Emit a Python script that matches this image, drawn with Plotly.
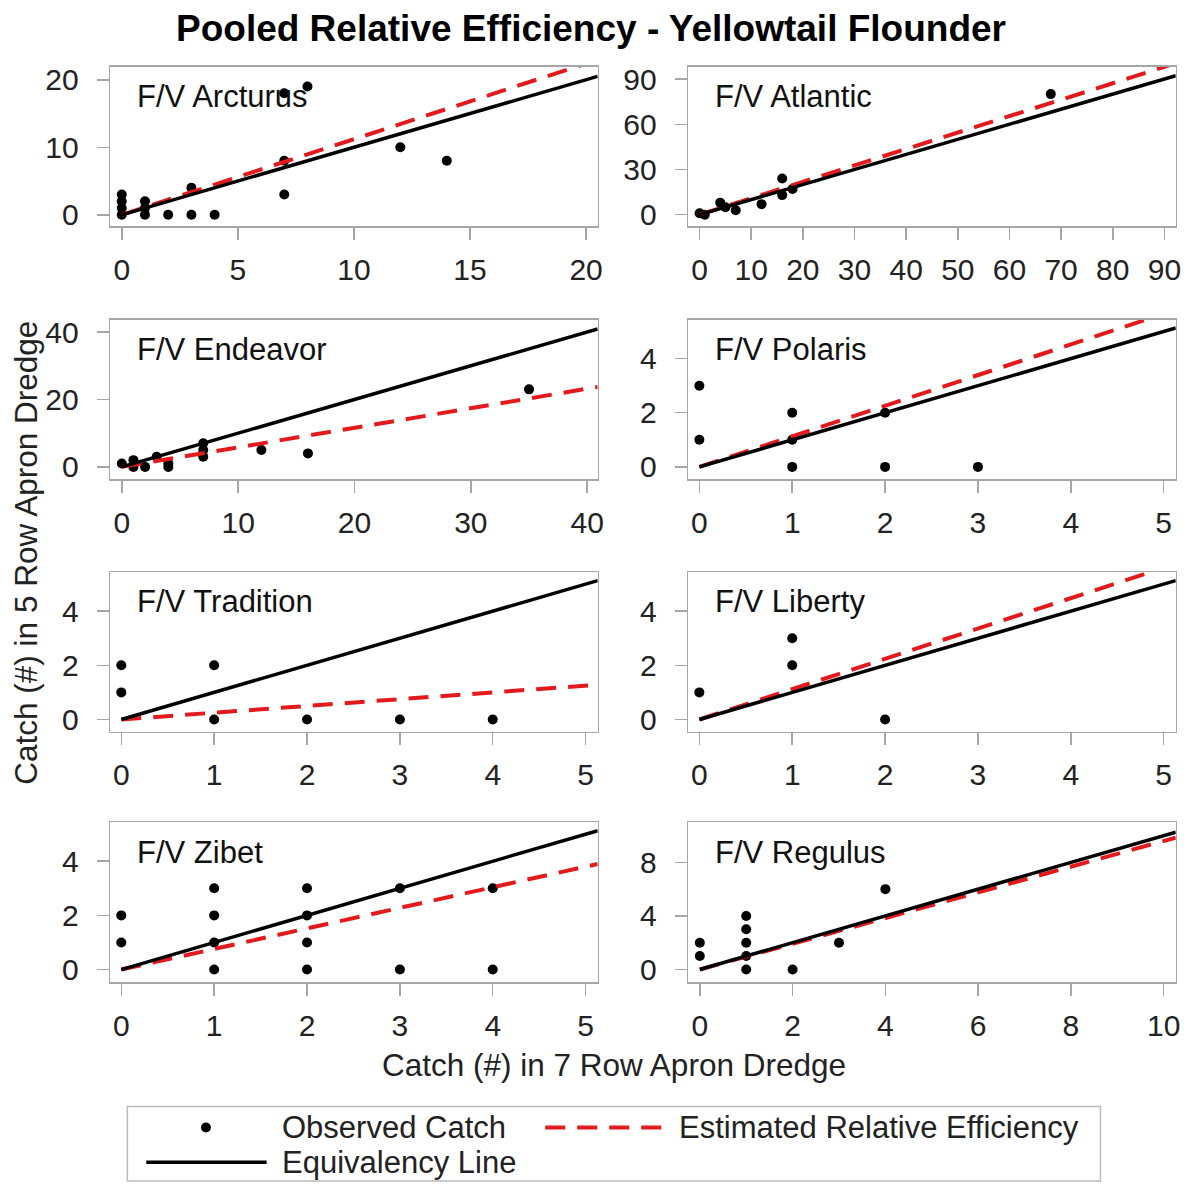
import plotly.graph_objects as go

W, H = 1194, 1187

# ---------------- data ----------------
vessels = ["F/V Arcturus", "F/V Atlantic", "F/V Endeavor", "F/V Polaris",
           "F/V Tradition", "F/V Liberty", "F/V Zibet", "F/V Regulus"]

arcturus_x = [0, 0, 0, 0, 1, 1, 1, 2, 3, 3, 4, 7, 7, 7, 8, 12, 14]
arcturus_y = [0, 1, 2, 3, 0, 1, 2, 0, 0, 4, 0, 3, 8, 18, 19, 10, 8]

atlantic_x = [0, 1, 4, 5, 7, 12, 16, 16, 18, 68]
atlantic_y = [1, 0, 8, 5, 3, 7, 13, 24, 17, 80]

endeavor_x = [0, 1, 1, 2, 3, 4, 4, 7, 7, 7, 12, 16, 35]
endeavor_y = [1, 0, 2, 0, 3, 0, 1, 3, 5, 7, 5, 4, 23]

polaris_x = [0, 0, 1, 1, 1, 2, 2, 3]
polaris_y = [1, 3, 0, 1, 2, 0, 2, 0]

tradition_x = [0, 0, 1, 1, 2, 3, 4]
tradition_y = [1, 2, 0, 2, 0, 0, 0]

liberty_x = [0, 1, 1, 2]
liberty_y = [1, 2, 3, 0]

zibet_x = [0, 0, 1, 1, 1, 1, 2, 2, 2, 2, 3, 3, 4, 4]
zibet_y = [1, 2, 0, 1, 2, 3, 0, 1, 2, 3, 0, 3, 0, 3]

regulus_x = [0, 0, 1, 1, 1, 1, 1, 2, 3, 4]
regulus_y = [1, 2, 0, 1, 2, 3, 4, 0, 2, 6]

# estimated relative efficiency (slope of red dashed line)
rel_eff = [1.12, 1.09, 0.58, 1.13, 0.25, 1.12, 0.76, 0.96]

x_ranges = [[-0.5, 20.5], [-2.2, 92.2], [-1.0, 40.9], [-0.12, 5.13],
            [-0.12, 5.13], [-0.12, 5.13], [-0.12, 5.13], [-0.25, 10.26]]
y_ranges = [[-1.7, 21.96], [-7.7, 98.3], [-3.7, 43.7], [-0.46, 5.44],
            [-0.46, 5.44], [-0.46, 5.44], [-0.46, 5.44], [-0.94, 11.0]]

x_ticks = [[0, 5, 10, 15, 20], list(range(0, 91, 10)), [0, 10, 20, 30, 40],
           [0, 1, 2, 3, 4, 5], [0, 1, 2, 3, 4, 5], [0, 1, 2, 3, 4, 5],
           [0, 1, 2, 3, 4, 5], [0, 2, 4, 6, 8, 10]]
y_ticks = [[0, 10, 20], [0, 30, 60, 90], [0, 20, 40], [0, 2, 4],
           [0, 2, 4], [0, 2, 4], [0, 2, 4], [0, 4, 8]]

xs = [arcturus_x, atlantic_x, endeavor_x, polaris_x, tradition_x, liberty_x, zibet_x, regulus_x]
ys = [arcturus_y, atlantic_y, endeavor_y, polaris_y, tradition_y, liberty_y, zibet_y, regulus_y]

title_text = "Pooled Relative Efficiency - Yellowtail Flounder"
x_title = "Catch (#) in 7 Row Apron Dredge"
y_title = "Catch (#) in 5 Row Apron Dredge"
legend_labels = ["Observed Catch", "Estimated Relative Efficiency", "Equivalency Line"]

# ---------------- layout helpers (page pixel -> paper fraction) ----------------
def px(x):
    return x / W

def py(y):
    return 1 - y / H

col_left = [110.7, 691.7]
col_width = 490.0
row_top = [63.0, 318.0, 572.5, 824.5]
row_height = 161.0

FONT = "Arial, Liberation Sans, sans-serif"
FRAME = "#a6a6a6"
RED = "#e31a1c"
TXT = "#222222"

fig = go.Figure()
layout = dict(
    width=W, height=H,
    margin=dict(l=0, r=0, t=0, b=0),
    paper_bgcolor="white", plot_bgcolor="white",
    showlegend=False,
    font=dict(family=FONT, color=TXT),
)
annotations = []

for i in range(8):
    r, c = divmod(i, 2)
    k = "" if i == 0 else str(i + 1)
    xa, ya = "x" + k, "y" + k
    x0 = col_left[c]
    y0 = row_top[r]
    xmax = x_ranges[i][1]

    fig.add_trace(go.Scatter(
        x=xs[i], y=ys[i], mode="markers", xaxis=xa, yaxis=ya,
        marker=dict(color="black", size=10), name=legend_labels[0]))
    fig.add_trace(go.Scatter(
        x=[0, xmax], y=[0, rel_eff[i] * xmax], mode="lines", xaxis=xa, yaxis=ya,
        line=dict(color=RED, width=4, dash="20px,12px"), name=legend_labels[1]))
    fig.add_trace(go.Scatter(
        x=[0, xmax], y=[0, xmax], mode="lines", xaxis=xa, yaxis=ya,
        line=dict(color="black", width=3.5), name=legend_labels[2]))

    common = dict(showgrid=False, zeroline=False, showline=True, mirror=True,
                  linecolor=FRAME, linewidth=1.5, ticks="outside", ticklen=12,
                  tickwidth=1.5, tickcolor=FRAME,
                  tickfont=dict(size=30, family=FONT, color=TXT))
    layout["xaxis" + k] = dict(
        common, domain=[px(x0), px(x0 + col_width)], anchor=ya,
        range=x_ranges[i], tickvals=x_ticks[i], ticklabelstandoff=4)
    layout["yaxis" + k] = dict(
        common, domain=[py(y0 + row_height), py(y0)], anchor=xa,
        range=y_ranges[i], tickvals=y_ticks[i], ticklabelstandoff=12)

    annotations.append(dict(
        text=vessels[i], xref=xa + " domain", yref=ya + " domain",
        x=0.05, y=1 - 30 / row_height, xanchor="left", yanchor="middle",
        showarrow=False, font=dict(size=31, family=FONT, color="#111111")))

# titles
annotations.append(dict(text="<b>" + title_text + "</b>", xref="paper", yref="paper",
                        x=px(594), y=py(25), xanchor="center", yanchor="middle",
                        showarrow=False, font=dict(size=37, family=FONT, color="black")))
annotations.append(dict(text=x_title, xref="paper", yref="paper",
                        x=px(617), y=py(1069), xanchor="center", yanchor="middle",
                        showarrow=False, font=dict(size=31.5, family=FONT, color=TXT)))
annotations.append(dict(text=y_title, xref="paper", yref="paper",
                        x=px(26), y=py(553), xanchor="center", yanchor="middle",
                        textangle=-90, showarrow=False,
                        font=dict(size=31.5, family=FONT, color=TXT)))

# legend (drawn manually)
shapes = [
    dict(type="rect", xref="paper", yref="paper", x0=px(128), x1=px(1106),
         y0=py(1186), y1=py(1111), line=dict(color="#bbbbbb", width=1.5),
         fillcolor="white", layer="below"),
    dict(type="circle", xref="paper", yref="paper", x0=px(202), x1=px(212),
         y0=py(1137), y1=py(1127), fillcolor="black", line=dict(width=0)),
    dict(type="line", xref="paper", yref="paper", x0=px(548), x1=px(665),
         y0=py(1132), y1=py(1132), line=dict(color=RED, width=4, dash="20px,12px")),
    dict(type="line", xref="paper", yref="paper", x0=px(147), x1=px(268),
         y0=py(1167), y1=py(1167), line=dict(color="black", width=3.5)),
]
for txt, lx, ly in [(legend_labels[0], 281, 1132), (legend_labels[1], 680, 1132),
                    (legend_labels[2], 281, 1167)]:
    annotations.append(dict(text=txt, xref="paper", yref="paper", x=px(lx), y=py(ly),
                            xanchor="left", yanchor="middle", showarrow=False,
                            font=dict(size=31, family=FONT, color=TXT)))

layout["annotations"] = annotations
layout["shapes"] = shapes
fig.update_layout(**layout)

page_css = ("document.documentElement.style.margin='0';"
            "document.documentElement.style.overflow='hidden';"
            "document.body.style.margin='0';"
            "document.body.style.overflow='hidden';")
fig.write_html("out.html", post_script=page_css,
               config={"displayModeBar": False, "staticPlot": True})
